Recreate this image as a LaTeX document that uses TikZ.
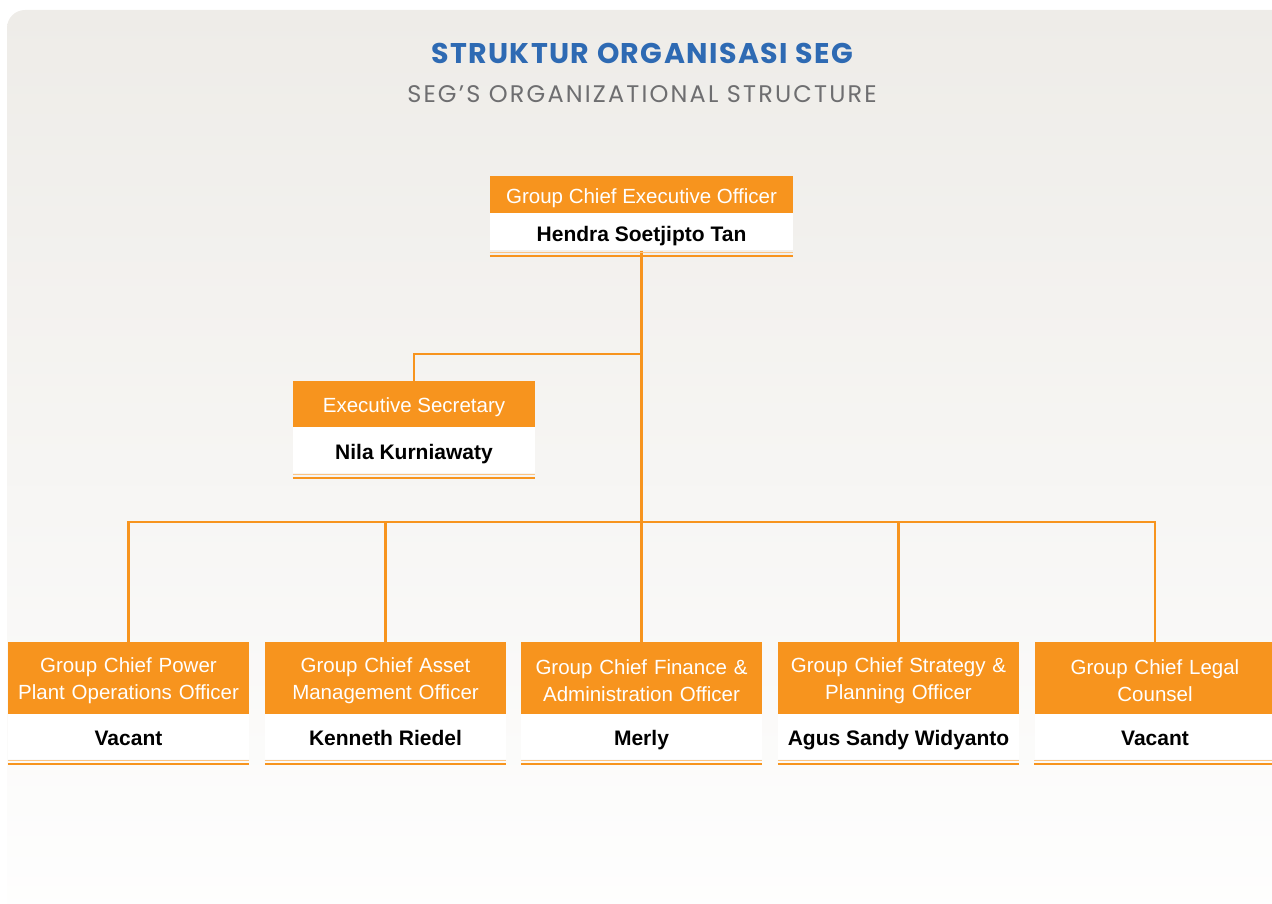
\documentclass[tikz,border=0pt]{standalone}
\usepackage{fontspec}
\usepackage{tikz}
\setmainfont{Liberation Sans}
\newfontfamily\headfont[LetterSpace=5]{Poppins}
\newfontfamily\subheadfont[LetterSpace=9]{Poppins}
\definecolor{segorange}{RGB}{247,148,30}
\definecolor{seglight}{RGB}{252,196,130}
\definecolor{segblue}{RGB}{46,106,179}
\definecolor{seggray}{RGB}{110,110,112}
\definecolor{segbg}{RGB}{238,236,232}

\begin{document}
\begin{tikzpicture}[x=1pt, y=-1pt,
  role/.style={fill=segorange, text=white, align=center, inner sep=0pt,
    font=\fontsize{20.5}{27}\selectfont, execute at begin node={\rule{0pt}{1em}}},
  who/.style={fill=white, text=black, align=center, inner sep=0pt,
    font=\fontsize{21}{24}\selectfont\bfseries, text height=21pt, text depth=2pt},
  link/.style={draw=segorange, line width=2.2pt},
  rim/.style={draw=seglight, line width=1.3pt},
  base/.style={draw=segorange, line width=2pt}]
  \useasboundingbox (0,0) rectangle (1272,904);
  \clip (0,0) rectangle (1272,904);
  \shade[top color=segbg, bottom color=white, rounded corners=18pt] (7,10) rectangle (1300,960);
  \node (heading) at (642,53) [font=\headfont\fontsize{28.5}{32}\selectfont\bfseries, text=segblue] {STRUKTUR ORGANISASI SEG};
  \node (subheading) at (642,94) [font=\subheadfont\fontsize{24}{28}\selectfont, text=seggray] {SEG’S ORGANIZATIONAL STRUCTURE};
  \node (ceoN) at (641.5,232) [who, minimum width=303pt, minimum height=37pt] {Hendra Soetjipto Tan};
  \node (ceoT) at (641.5,195) [role, minimum width=303pt, minimum height=37pt] {Group Chief Executive Officer};
  \node (secN) at (414,450) [who, minimum width=242pt, minimum height=46pt] {Nila Kurniawaty};
  \node (secT) at (414,404) [role, minimum width=242pt, minimum height=46pt] {Executive Secretary};
  \node (p1N) at (128.5,736) [who, minimum width=241pt, minimum height=45pt] {Vacant};
  \node (p1T) at (128.5,678) [role, minimum width=241pt, minimum height=72pt, text width=235pt] {Group Chief Power\\Plant Operations Officer};
  \node (p2N) at (385.5,736) [who, minimum width=241pt, minimum height=45pt] {Kenneth Riedel};
  \node (p2T) at (385.5,678) [role, minimum width=241pt, minimum height=72pt, text width=235pt] {Group Chief Asset\\Management Officer};
  \node (p3N) at (641.5,736) [who, minimum width=241pt, minimum height=45pt] {Merly};
  \node (p3T) at (641.5,678) [role, minimum width=241pt, minimum height=72pt, text width=235pt] {Group Chief Finance \&\\Administration Officer};
  \node (p4N) at (898.5,736) [who, minimum width=241pt, minimum height=45pt] {Agus Sandy Widyanto};
  \node (p4T) at (898.5,678) [role, minimum width=241pt, minimum height=72pt, text width=235pt] {Group Chief Strategy \&\\Planning Officer};
  \node (p5N) at (1155,736) [who, minimum width=241pt, minimum height=45pt] {Vacant};
  \node (p5T) at (1155,678) [role, minimum width=241pt, minimum height=72pt, text width=235pt] {Group Chief Legal\\Counsel};
  \coordinate (sechub) at (641.5,354);
  \coordinate (hub) at (641.5,522);
  \draw[link] (ceoN.south) -- (hub);
  \draw[link] (sechub) -| (secT.north);
  \draw[link] (hub) -| (p1T.north);
  \draw[link] (hub) -| (p2T.north);
  \draw[link] (hub) -- (p3T.north);
  \draw[link] (hub) -| (p4T.north);
  \draw[link] (hub) -| (p5T.north);
  \draw[rim] ([yshift=-1.5pt]ceoN.south west) -- ([yshift=-1.5pt]ceoN.south east);
  \draw[base] ([yshift=-5pt]ceoN.south west) -- ([yshift=-5pt]ceoN.south east);
  \draw[rim] ([yshift=-1.5pt]secN.south west) -- ([yshift=-1.5pt]secN.south east);
  \draw[base] ([yshift=-5pt]secN.south west) -- ([yshift=-5pt]secN.south east);
  \draw[rim] ([yshift=-1.5pt]p1N.south west) -- ([yshift=-1.5pt]p1N.south east);
  \draw[base] ([yshift=-5pt]p1N.south west) -- ([yshift=-5pt]p1N.south east);
  \draw[rim] ([yshift=-1.5pt]p2N.south west) -- ([yshift=-1.5pt]p2N.south east);
  \draw[base] ([yshift=-5pt]p2N.south west) -- ([yshift=-5pt]p2N.south east);
  \draw[rim] ([yshift=-1.5pt]p3N.south west) -- ([yshift=-1.5pt]p3N.south east);
  \draw[base] ([yshift=-5pt]p3N.south west) -- ([yshift=-5pt]p3N.south east);
  \draw[rim] ([yshift=-1.5pt]p4N.south west) -- ([yshift=-1.5pt]p4N.south east);
  \draw[base] ([yshift=-5pt]p4N.south west) -- ([yshift=-5pt]p4N.south east);
  \draw[rim] ([yshift=-1.5pt]p5N.south west) -- ([yshift=-1.5pt]p5N.south east);
  \draw[base] ([yshift=-5pt]p5N.south west) -- ([yshift=-5pt]p5N.south east);
\end{tikzpicture}
\end{document}
